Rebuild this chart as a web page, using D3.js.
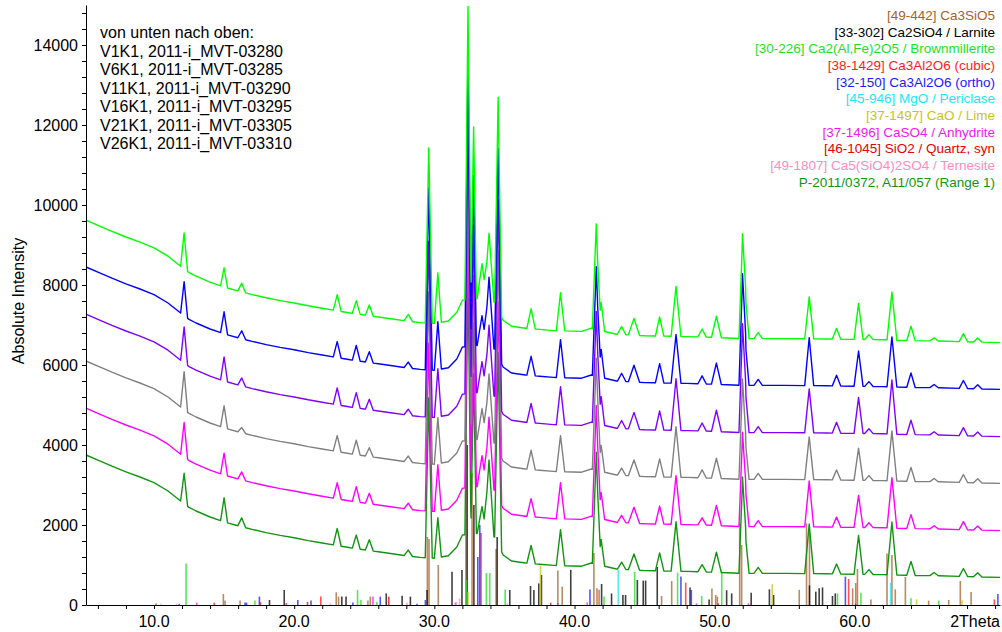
<!DOCTYPE html>
<html>
<head>
<meta charset="utf-8">
<script src="https://cdn.jsdelivr.net/npm/d3@7/dist/d3.min.js"></script>
<style>
body { margin: 0; background: #fff; }
text { font-family: "Liberation Sans", Arial, sans-serif; }
</style>
</head>
<body>
<svg id="chart" width="1002" height="632"></svg>
<script>
// ---- data ----

// sample traces, bottom to top
var sampleNames = ["V1K1, 2011-i_MVT-03280", "V6K1, 2011-i_MVT-03285", "V11K1, 2011-i_MVT-03290",
	"V16K1, 2011-i_MVT-03295", "V21K1, 2011-i_MVT-03305", "V26K1, 2011-i_MVT-03310"];
var sampleOffsets = [0, 1170, 2350, 3520, 4700, 5870];

// background of the lowest trace (2Theta, counts)
var bgTheta = [5.15, 6, 7, 8, 9, 10, 11, 11.9, 12.5, 13, 14, 15, 16, 17, 18, 19, 20, 21, 22, 23, 24, 25, 26, 27, 28, 29, 30,
	31, 31.6, 32.0, 33.0, 34.3, 34.9, 35.5, 36.5, 37.5, 38.5, 40.5, 41.2, 42, 43, 45, 48, 50, 52, 55, 58, 60, 62, 64, 66, 68, 70.35];
var bgCounts = [3750, 3620, 3470, 3330, 3200, 3060, 2850, 2600, 2440, 2350, 2200, 2080, 1980, 1890, 1810, 1740, 1680, 1610, 1550, 1490, 1430, 1380, 1330, 1280, 1230, 1190, 1170,
	1230, 1450, 1750, 1790, 1700, 1250, 1100, 1050, 1020, 990, 970, 1050, 980, 900, 860, 840, 820, 790, 790, 780, 770, 760, 740, 730, 710, 690];

// reflections: position, half base width (2Theta)
var peakPos = [12.15, 15.0, 16.26, 23.07, 24.43, 25.36, 28.14, 29.6, 30.25, 32.4, 32.8, 33.4, 33.9, 34.55, 36.9, 39.0,
	41.55, 41.9, 43.36, 44.24, 46.07, 47.24, 49.1, 50.12, 51.98, 52.2, 53.1, 56.74, 58.69, 60.26, 61.0, 62.64, 64.0, 65.65, 67.74, 68.76];
var peakHalfWidth = [0.25, 0.25, 0.28, 0.28, 0.28, 0.28, 0.3, 0.25, 0.25, 0.22, 0.2, 0.35, 0.35, 0.25, 0.3, 0.3,
	0.28, 0.25, 0.3, 0.4, 0.3, 0.35, 0.3, 0.35, 0.25, 0.25, 0.3, 0.32, 0.3, 0.32, 0.3, 0.35, 0.3, 0.3, 0.3, 0.3];
// net peak heights per reflection, columns = traces bottom to top
var peakHeights = [
	[760, 860, 950, 900, 850, 900],
	[600, 545, 550, 600, 550, 480],
	[220, 200, 130, 200, 200, 220],
	[430, 400, 400, 420, 400, 400],
	[340, 380, 360, 380, 380, 330],
	[270, 260, 220, 260, 270, 270],
	[150, 150, 150, 150, 150, 170],
	[4000, 4200, 4300, 4400, 4550, 4380],
	[1000, 1150, 1150, 1200, 1200, 1250],
	[6500, 6800, 7000, 7100, 7200, 7330],
	[4000, 4100, 4100, 4200, 4250, 4300],
	[700, 800, 800, 800, 770, 900],
	[1900, 1800, 1700, 1750, 1770, 1700],
	[4800, 4900, 5000, 5100, 5200, 5310],
	[450, 450, 480, 480, 480, 500],
	[900, 900, 900, 950, 950, 950],
	[2800, 2800, 2800, 2800, 2740, 2640],
	[650, 650, 650, 700, 700, 700],
	[180, 180, 180, 200, 200, 200],
	[400, 400, 400, 420, 420, 420],
	[450, 450, 450, 480, 480, 480],
	[1240, 1220, 1260, 1290, 1220, 1250],
	[180, 180, 200, 200, 200, 200],
	[500, 500, 500, 530, 530, 530],
	[2300, 2250, 2400, 2600, 2670, 2500],
	[900, 900, 900, 1000, 1000, 1000],
	[150, 150, 150, 150, 150, 150],
	[1240, 1150, 1070, 1100, 1200, 1050],
	[250, 250, 250, 270, 270, 270],
	[970, 800, 800, 900, 880, 900],
	[120, 120, 120, 120, 120, 120],
	[1320, 1260, 1250, 1350, 1250, 1200],
	[350, 350, 350, 360, 360, 360],
	[80, 80, 80, 80, 80, 80],
	[200, 200, 200, 200, 200, 200],
	[100, 100, 100, 100, 100, 100]
];

// reference patterns (2Theta, counts)
var phaseNames = ["[49-442] Ca3SiO5", "[33-302] Ca2SiO4 / Larnite", "[30-226] Ca2(Al,Fe)2O5 / Brownmillerite",
	"[38-1429] Ca3Al2O6 (cubic)", "[32-150] Ca3Al2O6 (ortho)", "[45-946] MgO / Periclase", "[37-1497] CaO / Lime",
	"[37-1496] CaSO4 / Anhydrite", "[46-1045] SiO2 / Quartz, syn", "[49-1807] Ca5(SiO4)2SO4 / Ternesite",
	"P-2011/0372, A11/057 (Range 1)"];
var sticksC3S = [[14.95, 275], [15.07, 110], [16.14, 110], [23.0, 316], [23.17, 210], [25.26, 110], [25.43, 210],
	[29.5, 1700], [29.62, 1650], [30.28, 1000], [32.25, 4200], [32.69, 3300], [34.4, 1400], [38.81, 860], [39.12, 460],
	[41.38, 1300], [41.6, 420], [41.75, 380], [46.21, 225], [46.93, 600], [49.8, 410], [50.07, 250], [50.19, 210],
	[51.78, 2040], [51.92, 1500], [56.03, 380], [56.55, 2040], [56.76, 1800], [59.84, 417], [60.06, 550], [60.18, 900],
	[61.14, 140], [62.29, 1290], [62.64, 1250], [62.88, 392], [63.6, 700], [65.26, 110], [66.69, 125], [67.52, 600], [68.29, 325]];
var sticksC2S = [[18.24, 125], [19.29, 375], [23.4, 210], [23.7, 210], [26.57, 290], [27.7, 233], [28.29, 210],
	[29.48, 375], [31.26, 830], [31.97, 875], [32.34, 4000], [32.82, 2500], [34.48, 1700], [35.38, 375], [36.86, 475],
	[37.1, 375], [37.45, 540], [37.64, 750], [39.73, 880], [41.93, 525], [42.64, 288], [43.45, 250], [43.64, 250],
	[44.48, 625], [44.9, 610], [45.07, 610], [45.9, 950], [48.24, 440], [49.6, 140], [50.85, 370], [51.21, 290],
	[52.6, 307], [53.9, 392], [54.2, 250], [56.76, 490], [57.21, 333], [57.45, 417], [57.69, 440], [58.4, 225], [58.6, 290]];
var sticksC4AF = [[12.29, 1040], [17.2, 110], [24.52, 375], [24.76, 125], [25.9, 80], [32.29, 625], [33.71, 800],
	[33.95, 800], [35.05, 390], [42.1, 214], [44.29, 830], [47.35, 810], [49.07, 225], [50.5, 840], [58.76, 290],
	[60.43, 307], [64.0, 167], [65.98, 110]];
var sticksC3Acub = [[10.14, 40], [14.3, 60], [17.6, 75], [19.43, 50], [21.9, 210], [33.33, 1800], [38.3, 60],
	[47.93, 560], [59.55, 650], [69.95, 140]];
var sticksC3Aort = [[11.8, 30], [16.5, 60], [16.6, 60], [17.52, 210], [20.26, 125], [21.2, 110], [24.19, 60],
	[26.14, 210], [28.76, 30], [29.36, 125], [33.1, 1200], [33.24, 2000], [41.1, 390], [47.59, 710], [48.33, 375],
	[59.32, 710], [70.2, 275]];
var sticksMgO = [[43.12, 880], [62.55, 550]];
var sticksCaO = [[32.4, 330], [37.57, 975], [54.1, 520], [64.4, 140], [67.65, 120]];
var sticksAnh = [[13.05, 60], [25.62, 210], [31.5, 60], [38.8, 50], [40.9, 60], [48.7, 40], [52.4, 40]];
var sticksQtz = [[20.95, 80], [26.75, 210], [50.25, 40], [60.05, 30]];
var sticksTern = [[10.5, 30], [11.6, 30], [22.57, 40], [28.05, 60], [31.57, 80], [31.8, 160], [35.2, 40]];

var xTickLabels = ["10.0", "20.0", "30.0", "40.0", "50.0", "60.0"];
var xTickValues = [10, 20, 30, 40, 50, 60];

// ---- styles ----
var traceColors = ["#119511", "#ff00ff", "#808080", "#8000ff", "#0000ff", "#00ff00"];
var phaseColors = ["#a5632d", "#000000", "#1fe01f", "#ff1a1a", "#1a1aff", "#19e6ff", "#c8c41a",
	"#f019f0", "#e60000", "#ff8cc0", "#129412"];
var phaseSticks = [sticksC3S, sticksC2S, sticksC4AF, sticksC3Acub, sticksC3Aort, sticksMgO, sticksCaO,
	sticksAnh, sticksQtz, sticksTern];

var svg = d3.select("#chart");
var x = d3.scaleLinear().domain([5.15, 70.35]).range([86, 1000]);
var y = d3.scaleLinear().domain([0, 15000]).range([605, 5]);

// background as a piecewise linear scale
var bg = d3.scaleLinear().domain(bgTheta).range(bgCounts);

// each reflection as a clamped triangle scale
var peakShapes = peakPos.map(function (p, i) {
	var w = peakHalfWidth[i];
	return d3.scaleLinear().domain([p - w, p, p + w]).range([0, 1, 0]).clamp(true);
});

// sample positions: background knots and every reflection's foot/apex
var sampleTheta = bgTheta.slice();
peakPos.forEach(function (p, i) {
	sampleTheta.push(p - peakHalfWidth[i], p, p + peakHalfWidth[i]);
});
sampleTheta = Array.from(new Set(sampleTheta)).sort(d3.ascending)
	.filter(function (t) { return t >= x.domain()[0] && t <= x.domain()[1]; });

// reference sticks
var stickG = svg.append("g");
phaseSticks.forEach(function (list, k) {
	stickG.selectAll(null)
		.data(list)
		.enter().append("line")
		.attr("x1", function (d) { return x(d[0]); })
		.attr("x2", function (d) { return x(d[0]); })
		.attr("y1", y(0))
		.attr("y2", function (d) { return y(d[1]); })
		.attr("stroke", phaseColors[k])
		.attr("stroke-width", 1.6)
		.attr("stroke-opacity", 0.75);
});

// traces, bottom one first
var line = d3.line()
	.x(function (d) { return x(d[0]); })
	.y(function (d) { return y(d[1]); });

sampleOffsets.forEach(function (off, s) {
	var pts = sampleTheta.map(function (t) {
		var v = bg(t) + off;
		peakShapes.forEach(function (shape, i) { v += shape(t) * peakHeights[i][s]; });
		return [t, v];
	});
	svg.append("path")
		.datum(pts)
		.attr("d", line)
		.attr("fill", "none")
		.attr("stroke", traceColors[s])
		.attr("stroke-width", 1.4)
		.attr("stroke-linejoin", "round");
});

// axes
var yAxis = d3.axisLeft(y)
	.tickValues(d3.range(0, 15000, 400))
	.tickSize(4)
	.tickSizeOuter(0)
	.tickPadding(4)
	.tickFormat(function (d) { return d % 2000 === 0 ? d : ""; });
var gy = svg.append("g").attr("transform", "translate(86,0)").call(yAxis);

var xAxis = d3.axisBottom(x)
	.tickValues(d3.range(6, 71, 2))
	.tickSize(4)
	.tickSizeOuter(0)
	.tickFormat("");
var gx = svg.append("g").attr("transform", "translate(0,605)").call(xAxis);

[gx, gy].forEach(function (g) {
	g.selectAll("path, line").attr("stroke", "#000");
	g.selectAll("text").attr("fill", "#000").style("font-size", "16px");
});

svg.append("g").selectAll("text")
	.data(xTickValues)
	.enter().append("text")
	.attr("x", function (d) { return x(d); })
	.attr("y", 627)
	.attr("text-anchor", "middle")
	.style("font-size", "16px")
	.text(function (d, i) { return xTickLabels[i]; });

svg.append("text")
	.attr("x", 1000)
	.attr("y", 627)
	.attr("text-anchor", "end")
	.style("font-size", "16px")
	.text("2Theta");

svg.append("text")
	.attr("transform", "translate(24,301) rotate(-90)")
	.attr("text-anchor", "middle")
	.style("font-size", "16px")
	.text("Absolute Intensity");

// sample legend
var topLines = ["von unten nach oben:"].concat(sampleNames);
svg.append("g").selectAll("text")
	.data(topLines)
	.enter().append("text")
	.attr("x", 100)
	.attr("y", function (d, i) { return 38 + i * 18.5; })
	.style("font-size", "16px")
	.text(function (d) { return d; });

// phase legend
svg.append("g").selectAll("text")
	.data(phaseNames)
	.enter().append("text")
	.attr("x", 995)
	.attr("y", function (d, i) { return 20 + i * 16.67; })
	.attr("text-anchor", "end")
	.attr("fill", function (d, i) { return phaseColors[i]; })
	.style("font-size", "13.5px")
	.text(function (d) { return d; });
</script>
</body>
</html>
